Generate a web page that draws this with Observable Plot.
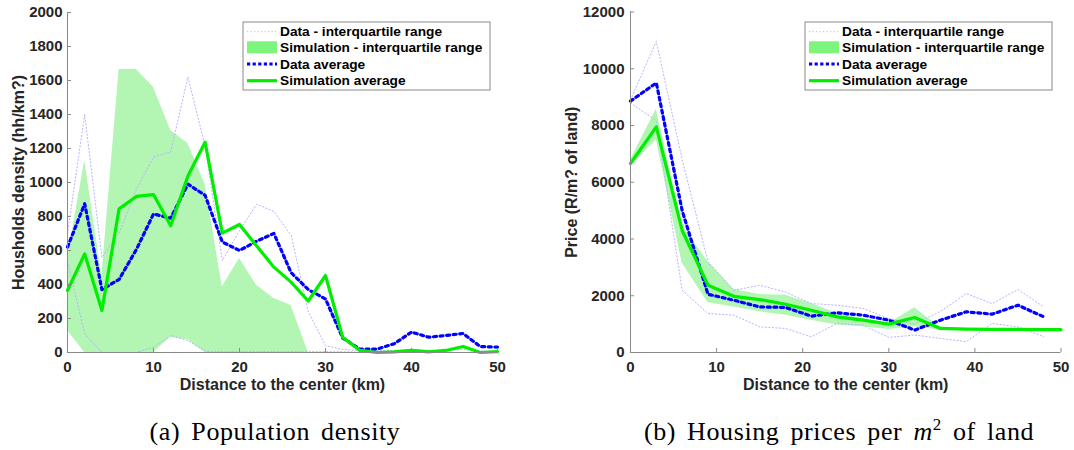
<!DOCTYPE html>
<html><head><meta charset="utf-8">
<script src="https://cdn.jsdelivr.net/npm/d3@7"></script>
<script src="https://cdn.jsdelivr.net/npm/@observablehq/plot@0.6"></script>
<style>
body{margin:0;background:#fff;}
#wrap{position:relative;width:1074px;height:450px;overflow:hidden;background:#fff;}
.panel{position:absolute;top:0;}
.legend{position:absolute;top:0;}
.caption{position:absolute;top:417px;line-height:30px;font-family:"Liberation Serif","Times New Roman",serif;font-size:26px;letter-spacing:0.6px;word-spacing:4px;color:#000;white-space:nowrap;transform:translateX(-50%);}
.caption sup{font-size:17px;line-height:0;}
</style></head>
<body><div id="wrap"></div>
<script>
// ---- Panel (a): population density ----
const densityX       = [0,2,4,6,8,10,12,14,16,18,20,22,24,26,28,30,32,34,36,38,40,42,44,46,48,50];
const densityDataAvg = [620,875,370,430,605,815,790,990,925,650,600,655,700,470,370,315,85,20,20,52,120,90,100,112,35,32];
const densityDataQ3  = [700,1400,560,700,960,1150,1180,1620,1215,540,718,872,830,690,240,40,18,12,10,12,18,12,12,18,8,6];
const densityDataQ1  = [535,110,0,0,0,31,100,70,8,5,5,5,5,5,5,5,4,3,0,0,0,0,0,0,0,0];
const densitySimAvg  = [365,580,247,845,918,929,745,1038,1237,702,753,627,502,414,303,453,90,12,0,4,12,4,12,35,0,5];
const densitySimQ3   = [550,1129,450,1665,1665,1561,1306,1229,990,385,553,394,318,276,0,0,0,0,0,0,0,0,0,0,0,0];
const densitySimQ1   = [130,0,0,0,0,0,90,75,0,0,0,0,0,0,0,0,0,0,0,0,0,0,0,0,0,0];
const densityYTicks  = [0,200,400,600,800,1000,1200,1400,1600,1800,2000];

// ---- Panel (b): housing prices ----
const priceX       = [0,3,6,9,12,15,18,21,24,27,30,33,36,39,42,45,48];
const priceDataAvg = [8860,9500,5000,2053,1842,1607,1590,1281,1398,1316,1140,789,1140,1433,1351,1667,1257];
const priceDataQ3  = [8900,10965,6800,3200,2193,2368,2134,1725,1667,1550,1199,1000,1450,2076,1725,2216,1608];
const priceDataQ1  = [8800,8158,2193,1374,1316,906,848,556,1024,965,532,614,497,380,1024,906,556];
const priceSimX    = [0,3,6,9,12,15,18,21,24,27,30,33,36,39,42,45,48,50];
const priceSimAvg  = [6660,7950,4300,2370,1980,1866,1700,1490,1257,1140,1000,1235,848,825,818,812,808,805];
const priceSimQ3   = [6780,8570,4450,3200,2216,2041,2018,1725,1374,1199,1024,1573,870,845,838,832,828,825];
const priceSimQ1   = [6560,7500,3150,1750,1607,1433,1316,1140,965,906,813,906,790,800,795,790,788,785];
const priceYTicks  = [0,2000,4000,6000,8000,10000,12000];

const xTicks = [0,10,20,30,40,50];
const xLabel = "Distance to the center (km)";
const legendLabels = ["Data - interquartile range","Simulation - interquartile range","Data average","Simulation average"];

// ---- styles ----
const C = {
  dataIqr: "#b4b4ff", simBand: "#b3f5b3", simSwatch: "#7df57d",
  dataAvg: "#0000ff", simAvg: "#00ee00", axis: "#8a8a8a", text: "#262626"
};
const font = "'Liberation Sans', Arial, Helvetica, sans-serif";

function table(xs, cols) {
  return xs.map((x, i) => { const r = {x}; for (const k in cols) r[k] = cols[k][i]; return r; });
}

function panel(o) {
  const dataT = table(o.x, {avg: o.dataAvg, q3: o.dataQ3, q1: o.dataQ1});
  const simT = table(o.simX, {avg: o.simAvg, q3: o.simQ3, q1: o.simQ1});
  return Plot.plot({
    width: o.width, height: 400,
    marginLeft: o.ml, marginRight: o.mr, marginTop: o.mt, marginBottom: 48,
    x: {domain: [0, 50]},
    y: {domain: o.yDomain},
    style: {fontFamily: font, fontWeight: "bold", color: C.text, background: "transparent", overflow: "visible"},
    marks: [
      Plot.areaY(simT, {x: "x", y1: "q1", y2: "q3", fill: C.simBand, curve: "linear"}),
      Plot.lineY(dataT, {x: "x", y: "q3", stroke: C.dataIqr, strokeWidth: 1, strokeDasharray: "1.2,2.3"}),
      Plot.lineY(dataT, {x: "x", y: "q1", stroke: C.dataIqr, strokeWidth: 1, strokeDasharray: "1.2,2.3"}),
      Plot.lineY(dataT, {x: "x", y: "avg", stroke: C.dataAvg, strokeWidth: 3.2, strokeDasharray: "3,3.6"}),
      Plot.lineY(simT, {x: "x", y: "avg", stroke: C.simAvg, strokeWidth: 3.2}),
      Plot.ruleX([0], {stroke: C.axis}),
      Plot.ruleY([0], {stroke: C.axis}),
      Plot.axisX(xTicks, {tickSize: -4, tickPadding: 13, tickFormat: "d", label: null, stroke: C.axis, fill: C.text, fontSize: 15, fontWeight: "bold"}),
      Plot.axisY(o.yTicks, {tickSize: -4, tickPadding: o.yPad, tickFormat: "d", label: null, stroke: C.axis, fill: C.text, fontSize: 15, fontWeight: "bold"}),
      Plot.text([xLabel], {frameAnchor: "bottom", textAnchor: "middle", lineAnchor: "middle", dy: 32, fontSize: 16, fontWeight: "bold", fill: C.text}),
      Plot.text([o.yLabel], {frameAnchor: "left", textAnchor: "middle", lineAnchor: "middle", rotate: -90, dx: o.yLabelDx, fontSize: 16, fontWeight: "bold", fill: C.text})
    ]
  });
}

function legend(left) {
  const w = 247, h = 68, top = 22;
  const rows = [31.7, 47.3, 64, 80.7].map(y => y - top);
  const svg = d3.create("svg").attr("class", "legend").attr("width", w + 2).attr("height", h + 2)
    .style("left", (left - 1) + "px").style("top", (top - 1) + "px");
  const g = svg.append("g").attr("transform", "translate(1,1)");
  g.append("rect").attr("width", w).attr("height", h).attr("fill", "#fff").attr("stroke", C.axis).attr("stroke-width", 1);
  g.append("line").attr("x1", 4).attr("x2", 33).attr("y1", rows[0]).attr("y2", rows[0])
    .attr("stroke", C.dataIqr).attr("stroke-width", 1).attr("stroke-dasharray", "1.2,2.3");
  g.append("rect").attr("x", 4).attr("y", rows[1] - 6).attr("width", 30).attr("height", 12).attr("fill", C.simSwatch);
  g.append("line").attr("x1", 4).attr("x2", 34).attr("y1", rows[2]).attr("y2", rows[2])
    .attr("stroke", C.dataAvg).attr("stroke-width", 3.2).attr("stroke-dasharray", "3.2,2.4");
  g.append("line").attr("x1", 4).attr("x2", 34).attr("y1", rows[3]).attr("y2", rows[3])
    .attr("stroke", C.simAvg).attr("stroke-width", 3.2);
  legendLabels.forEach((t, i) => {
    g.append("text").attr("x", 37).attr("y", rows[i]).attr("dy", "0.35em")
      .attr("font-family", font).attr("font-weight", "bold").attr("font-size", "13.7px").attr("fill", "#000").text(t);
  });
  return svg.node();
}

const wrap = document.getElementById("wrap");

const pa = panel({
  width: 537, ml: 67, mr: 40, mt: 12, x: densityX, dataAvg: densityDataAvg, dataQ3: densityDataQ3, dataQ1: densityDataQ1,
  simX: densityX, simAvg: densitySimAvg, simQ3: densitySimQ3, simQ1: densitySimQ1,
  yDomain: [0, 2000], yTicks: densityYTicks, yPad: 9, yLabel: "Housholds density (hh/km?)", yLabelDx: -49
});
pa.classList.add("panel"); pa.style.left = "0px";
wrap.appendChild(pa);

const pb = panel({
  width: 537, ml: 93, mr: 13.5, mt: 11.5, x: priceX, dataAvg: priceDataAvg, dataQ3: priceDataQ3, dataQ1: priceDataQ1,
  simX: priceSimX, simAvg: priceSimAvg, simQ3: priceSimQ3, simQ1: priceSimQ1,
  yDomain: [0, 12000], yTicks: priceYTicks, yPad: 10, yLabel: "Price (R/m? of land)", yLabelDx: -59
});
pb.classList.add("panel"); pb.style.left = "537px";
wrap.appendChild(pb);

wrap.appendChild(legend(243));
wrap.appendChild(legend(805));

const capA = document.createElement("div");
capA.className = "caption"; capA.style.left = "275px";
capA.textContent = "(a) Population density";
wrap.appendChild(capA);
const capB = document.createElement("div");
capB.className = "caption"; capB.style.left = "839px";
capB.innerHTML = "(b) Housing prices per <i>m</i><sup>2</sup> of land";
wrap.appendChild(capB);
</script>
</body></html>
